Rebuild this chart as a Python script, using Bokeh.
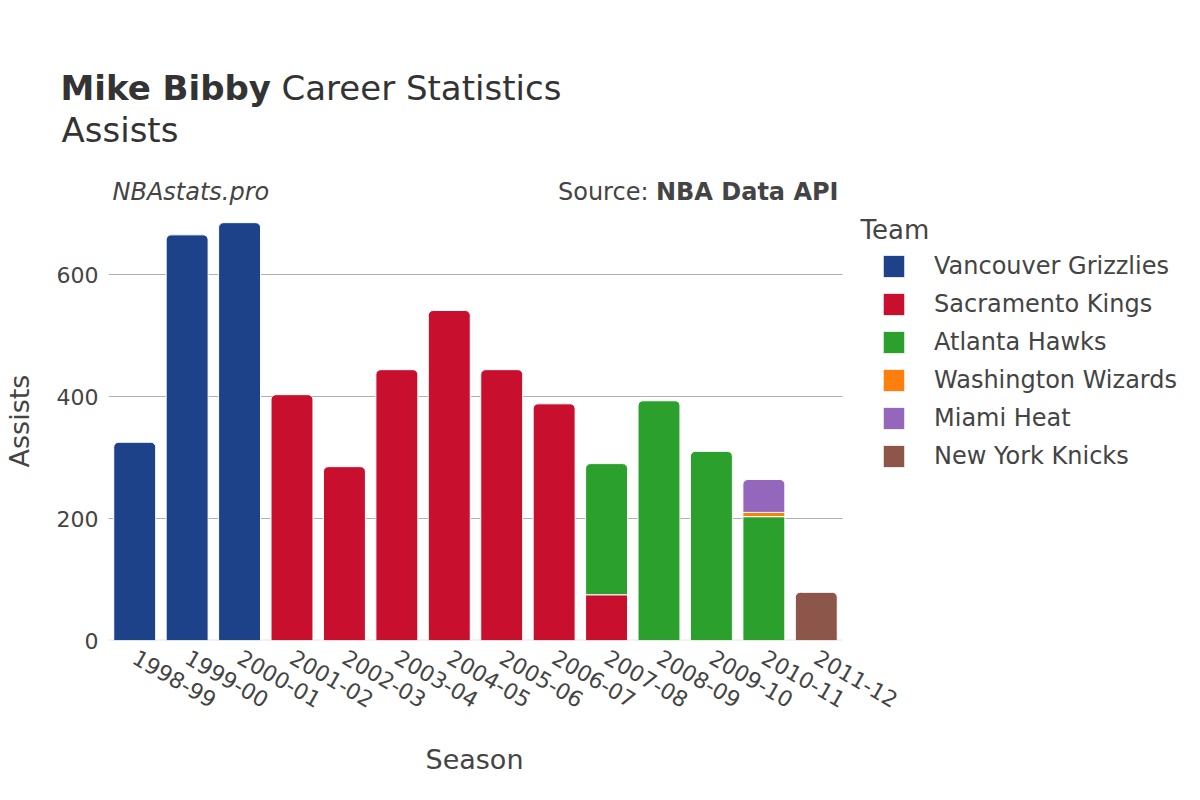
from bokeh.plotting import figure
from bokeh.models import (Range1d, ColumnDataSource, Legend, LegendItem,
                          Label, FixedTicker, Title)
from bokeh.embed import file_html
from bokeh.resources import INLINE
import math

# ---------------- data ----------------
seasons = ["1998-99", "1999-00", "2000-01", "2001-02", "2002-03", "2003-04", "2004-05",
           "2005-06", "2006-07", "2007-08", "2008-09", "2009-10", "2010-11", "2011-12"]
teams = ["Vancouver Grizzlies", "Sacramento Kings", "Atlanta Hawks",
         "Washington Wizards", "Miami Heat", "New York Knicks"]
team_colors = ["#1d4289", "#c8102e", "#2ca02c", "#ff7f0e", "#9467bd", "#8c564b"]

vancouver_grizzlies = [325, 665, 685, 0, 0, 0, 0, 0, 0, 0, 0, 0, 0, 0]
sacramento_kings = [0, 0, 0, 403, 285, 444, 541, 444, 388, 75, 0, 0, 0, 0]
atlanta_hawks = [0, 0, 0, 0, 0, 0, 0, 0, 0, 215, 393, 310, 203, 0]
washington_wizards = [0, 0, 0, 0, 0, 0, 0, 0, 0, 0, 0, 0, 7, 0]
miami_heat = [0, 0, 0, 0, 0, 0, 0, 0, 0, 0, 0, 0, 54, 0]
new_york_knicks = [0, 0, 0, 0, 0, 0, 0, 0, 0, 0, 0, 0, 0, 79]

y_ticks = [0, 200, 400, 600]

series = [vancouver_grizzlies, sacramento_kings, atlanta_hawks,
          washington_wizards, miami_heat, new_york_knicks]

FONT = "DejaVu Sans"
TXT = "#444444"
TITLE_C = "#333333"

W, H = 1192, 800
FRAME_L, BAR_AREA_R, FRAME_T, FRAME_B = 108, 842, 170, 640   # canvas px
PX_PER_UNIT = 0.61
LBL_DY = 8   # Label baseline correction

n = len(seasons)
cat_px = (BAR_AREA_R - FRAME_L) / n
x_start = -0.5
x_end = x_start + (W - FRAME_L) / cat_px
y_end = (FRAME_B - FRAME_T) / PX_PER_UNIT

p = figure(width=W, height=H, x_range=Range1d(x_start, x_end),
           y_range=Range1d(0, y_end), output_backend="svg", toolbar_location=None,
           min_border_left=FRAME_L, min_border_right=0,
           min_border_top=FRAME_T, min_border_bottom=H - FRAME_B)
p.title = None
p.outline_line_color = None
p.background_fill_color = "white"
p.border_fill_color = "white"

idx = list(range(n))
p.xaxis.ticker = FixedTicker(ticks=idx)
p.xaxis.major_label_overrides = {i: s for i, s in zip(idx, seasons)}
p.xaxis.axis_line_color = None
p.xaxis.major_tick_line_color = None
p.xaxis.minor_tick_line_color = None
p.xaxis.major_label_orientation = -math.pi / 6
p.xaxis.major_label_text_font = FONT
p.xaxis.major_label_text_font_size = "22px"
p.xaxis.major_label_text_color = TXT
p.xaxis.major_label_standoff = 9

p.yaxis.ticker = FixedTicker(ticks=y_ticks)
p.yaxis.axis_line_color = None
p.yaxis.major_tick_line_color = None
p.yaxis.minor_tick_line_color = None
p.yaxis.major_label_text_font = FONT
p.yaxis.major_label_text_font_size = "22px"
p.yaxis.major_label_text_color = TXT
p.yaxis.major_label_standoff = 4
# trailing non-breaking spaces move the visible label down to the bar-area centre
p.yaxis.axis_label = "Assists\u00a0\u00a0\u00a0\u2009"
p.yaxis.axis_label_text_font = FONT
p.yaxis.axis_label_text_font_size = "27px"
p.yaxis.axis_label_text_font_style = "normal"
p.yaxis.axis_label_text_color = TXT
p.yaxis.axis_label_standoff = 19

p.xgrid.grid_line_color = None
p.ygrid.grid_line_color = None

# horizontal grid lines across the bar area only, plus a light zero line
grid_vals = [t for t in y_ticks if t > 0]
p.segment(x0=[x_start] * len(grid_vals), x1=[n - 0.5] * len(grid_vals),
          y0=grid_vals, y1=grid_vals, line_color="#b0b0b0", line_width=1,
          level="underlay")
p.segment(x0=[x_start], x1=[n - 0.5], y0=[0], y1=[0], line_color="#e6e6e6",
          line_width=2, level="underlay")

# stacked bars
base = [0] * n
top_team = [max(i for i, s in enumerate(series) if s[j] > 0) for j in range(n)]
items = []
for ti, (team, vals, col) in enumerate(zip(teams, series, team_colors)):
    rounded = dict(x=[], bottom=[], top=[])
    flat = dict(x=[], bottom=[], top=[])
    for j in range(n):
        v = vals[j]
        if v <= 0:
            continue
        d = rounded if top_team[j] == ti else flat
        d["x"].append(idx[j])
        d["bottom"].append(base[j])
        d["top"].append(base[j] + v)
        base[j] += v
    rends = []
    for d, br in ((rounded, (5, 5, 0, 0)), (flat, 0)):
        if d["x"]:
            r = p.vbar(x="x", bottom="bottom", top="top", width=0.8,
                       source=ColumnDataSource(d), fill_color=col,
                       line_color="white", line_width=1, border_radius=br)
            rends.append(r)
    items.append(LegendItem(label=team, renderers=rends))

legend = Legend(items=items, location=(880 - FRAME_L, FRAME_B - 470), margin=0, padding=0,
                glyph_width=27, glyph_height=28, label_height=28, spacing=10,
                label_standoff=27, label_text_font=FONT, label_text_font_size="24px",
                label_text_color=TXT, border_line_color=None, background_fill_alpha=0)
p.add_layout(legend)

# header titles (above panel, first added is closest to the frame)
p.add_layout(Title(text="Assists", align="left", offset=61 - FRAME_L, standoff=42,
                   text_font=FONT, text_font_size="34px", text_font_style="normal",
                   text_color=TITLE_C, vertical_align="bottom"), "above")
p.add_layout(Title(text="Career Statistics", align="left", offset=281 - FRAME_L,
                   standoff=-42, text_font=FONT, text_font_size="34px",
                   text_font_style="normal", text_color=TITLE_C,
                   vertical_align="bottom"), "above")
p.add_layout(Title(text="Mike Bibby", align="left", offset=60 - FRAME_L, standoff=-42,
                   text_font=FONT, text_font_size="34px", text_font_style="bold",
                   text_color=TITLE_C, vertical_align="bottom"), "above")

# x-axis title, centred under the bar area (below panel, after the axis)
p.add_layout(Title(text="Season", align="left", offset=425 - FRAME_L, standoff=46,
                   text_font=FONT, text_font_size="27px", text_font_style="normal",
                   text_color=TXT, vertical_align="bottom"), "below")


def clab(x, y, text, size, style="normal", align="left"):
    p.add_layout(Label(x=x - FRAME_L, y=FRAME_B - (y - LBL_DY), x_units="screen",
                       y_units="screen", text=text, text_font=FONT, text_font_size=size,
                       text_font_style=style, text_align=align,
                       text_baseline="alphabetic", text_color=TXT))


clab(112, 199, "NBAstats.pro", "24px", style="italic")
clab(838, 199, "NBA Data API", "24px", style="bold", align="right")
clab(648, 199, "Source:", "24px", align="right")
clab(860, 237, "Team", "26px")

open("out.html", "w").write(file_html(p, INLINE))
